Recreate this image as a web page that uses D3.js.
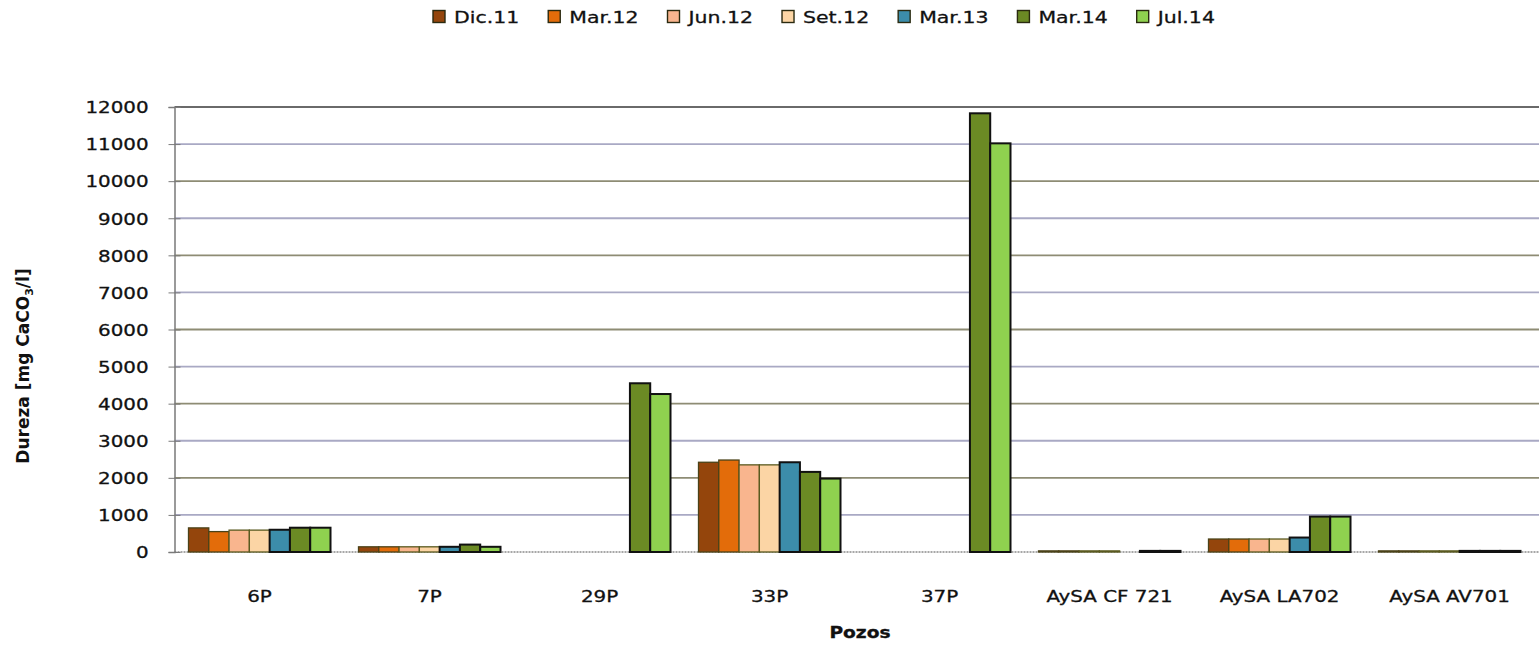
<!DOCTYPE html>
<html><head><meta charset="utf-8">
<script src="https://cdn.jsdelivr.net/npm/d3@7"></script>
<style>
body{margin:0;background:#fff;}
svg{display:block;font-family:"DejaVu Sans",Verdana,sans-serif;}
text.h{stroke:#111;stroke-width:0.3px;}
</style></head>
<body><svg id="c" width="1539" height="645"></svg>
<script>
const categories = ["6P","7P","29P","33P","37P","AySA CF 721","AySA LA702","AySA AV701"];
const seriesNames = ["Dic.11","Mar.12","Jun.12","Set.12","Mar.13","Mar.14","Jul.14"];
const seriesColors = ["#94450c","#e36c0a","#f9b58e","#fcd5a5","#3c8daa","#6b8a24","#8fd14f"];
const seriesStroke = ["#4a4218","#4a4218","#5a5a20","#5a5a20","#111111","#111111","#111111"];
// values per series, in the order of categories (null = no sample)
const dic11 = [650, 140, null, 2420, null, 30, 350, 30];
const mar12 = [550, 140, null, 2480, null, 30, 350, 30];
const jun12 = [590, 140, null, 2350, null, 30, 350, 30];
const set12 = [590, 140, null, 2350, null, 30, 350, 30];
const mar13 = [600, 140, null, 2420, null, null, 390, 30];
const mar14 = [655, 200, 4550, 2160, 11830, 30, 955, 30];
const jul14 = [655, 140, 4260, 1980, 11020, 30, 955, 30];
const seriesValues = [dic11, mar12, jun12, set12, mar13, mar14, jul14];
const yTicks = [0,1000,2000,3000,4000,5000,6000,7000,8000,9000,10000,11000,12000];

(function(){
const svg = d3.select("#c");
const STRETCH = 1.24;
const pLeft = 174.5, pRight = 1534.5, pTop = 107, pBottom = 552;

const x0 = d3.scaleBand().domain(categories).range([pLeft, pRight]).padding(0);
const x1 = d3.scaleBand().domain(seriesNames).range([14, x0.bandwidth() - 14]).padding(0);
const y = d3.scaleLinear().domain([0, 12000]).range([pBottom, pTop]);

// gridlines
svg.append("g").selectAll("line").data(yTicks.filter(d => d > 0)).join("line")
  .attr("x1", pLeft).attr("x2", 1539)
  .attr("y1", d => y(d)).attr("y2", d => y(d))
  .attr("stroke", d => d === 12000 ? "#6a6a6a" : (d / 1000) % 2 === 0 ? "#8e8c74" : "#a9a9c4")
  .attr("stroke-width", 1.8);

// baseline (dotted)
svg.append("line").attr("x1", pLeft).attr("x2", 1539).attr("y1", pBottom).attr("y2", pBottom)
  .attr("stroke", "#8a8a8a").attr("stroke-width", 1.5).attr("stroke-dasharray", "2,1");

// bars
const data = [];
categories.forEach((c, ci) => seriesNames.forEach((s, si) => {
  const v = seriesValues[si][ci];
  if (v !== null) data.push({c, s, si, v});
}));
svg.append("g").selectAll("rect").data(data).join("rect")
  .attr("x", d => x0(d.c) + x1(d.s))
  .attr("width", x1.bandwidth())
  .attr("y", d => y(d.v))
  .attr("height", d => pBottom - y(d.v))
  .attr("fill", d => seriesColors[d.si])
  .attr("stroke", d => seriesStroke[d.si])
  .attr("stroke-width", d => d.si >= 4 ? 2 : 1.3);

// y axis
const yAxis = d3.axisLeft(y).tickValues(yTicks).tickSize(6).tickPadding(20).tickFormat(d3.format("d"));
const ga = svg.append("g").attr("transform", `translate(${pLeft},0)`).call(yAxis);
ga.select(".domain").attr("stroke", "#7a7a7a").attr("stroke-width", 1.5);
ga.selectAll(".tick line").attr("stroke", "#7a7a7a").attr("x1", 6).attr("x2", -6);
ga.selectAll(".tick text").attr("class", "h").attr("font-size", 16)
  .attr("font-family", "DejaVu Sans").attr("fill", "#111").attr("dy", "0.36em");

// x axis labels
const xAxis = d3.axisBottom(x0).tickSize(0).tickPadding(0);
const gx = svg.append("g").attr("transform", `translate(0,${pBottom})`).call(xAxis);
gx.select(".domain").remove();
gx.selectAll(".tick text").attr("class", "h").attr("font-size", 16).attr("font-family", "DejaVu Sans")
  .attr("fill", "#111").attr("y", 50).attr("dy", 0);

// axis titles
svg.append("text").attr("class", "h").attr("x", 860).attr("y", 638).attr("text-anchor", "middle")
  .attr("font-size", 15).attr("font-weight", "bold").attr("fill", "#111").text("Pozos");
const yt = svg.append("text").attr("transform", "translate(29,366) rotate(-90)")
  .attr("text-anchor", "middle").attr("font-size", 17).attr("font-weight", "bold").attr("fill", "#111");
yt.append("tspan").text("Dureza  [mg CaCO");
yt.append("tspan").attr("font-size", 11).attr("dy", 4).text("3");
yt.append("tspan").attr("dy", -4).text("/l]");

// legend
const lg = svg.append("g");
let lx = 433;
seriesNames.forEach((s, i) => {
  lg.append("rect").attr("x", lx).attr("y", 10.5).attr("width", 12).attr("height", 12)
    .attr("fill", seriesColors[i]).attr("stroke", "#2a2a10").attr("stroke-width", 1.4);
  const t = lg.append("text").attr("class", "h").attr("x", lx + 21).attr("y", 23)
    .attr("font-size", 16.5).attr("fill", "#111").text(s);
  const w = t.node().getComputedTextLength() * STRETCH;
  t.attr("textLength", w).attr("lengthAdjust", "spacingAndGlyphs");
  lx += 21 + w + 29;
});

// horizontal stretch for other texts
svg.selectAll("text.h").each(function() {
  const el = d3.select(this);
  if (el.attr("textLength")) return;
  const w = this.getComputedTextLength() * STRETCH;
  el.attr("textLength", w).attr("lengthAdjust", "spacingAndGlyphs");
});
})();
</script></body></html>
